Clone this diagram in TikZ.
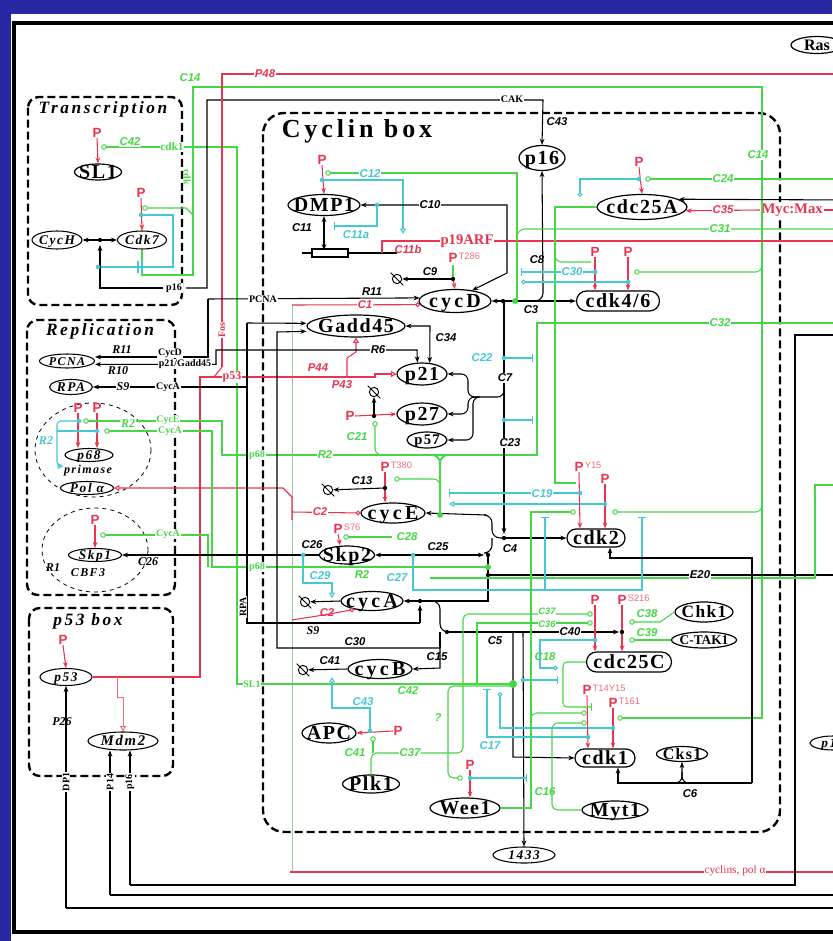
\documentclass[tikz,border=0pt]{standalone}
\usepackage{fontspec}
\setmainfont{Liberation Serif}
\newfontfamily\nfont{Liberation Serif}[LetterSpace=8]
\newfontfamily\cfont{Liberation Serif}[LetterSpace=16]
\newfontfamily\ifont{Liberation Serif}[LetterSpace=12]
\newfontfamily\tfont{Liberation Serif}[LetterSpace=15]
\newfontfamily\psans{Liberation Sans}
\usetikzlibrary{shapes.geometric,shapes.misc,arrows.meta,calc}
\definecolor{bgb}{RGB}{40,40,165}
\definecolor{rd}{RGB}{232,52,78}
\definecolor{rdl}{RGB}{236,110,125}
\definecolor{gn}{RGB}{70,215,70}
\definecolor{cy}{RGB}{70,200,210}
\definecolor{gy}{RGB}{160,200,160}
\newcounter{lc}
\newcommand\lab[3][]{\stepcounter{lc}\node[lb,#1] (t\arabic{lc}) at (#2) {#3};}
\newcommand\dotb[1]{\fill (#1) circle (1.6pt);}
\newcommand\dotg[1]{\fill[gn] (#1) circle (2.2pt);}
\newcommand\dotc[1]{\fill[cy] (#1) circle (1.7pt);}
\newcommand\ocg[1]{\draw[gn,fill=white,line width=0.7pt] (#1) circle (1.7pt);}
\newcommand\nP[2]{\node[pp] (#1) at (#2) {P};}
\newcommand\ntx[1]{\makebox[0pt]{\raisebox{-0.34em}[0pt][0pt]{#1}}}
\newcommand\degr[2]{\node[dg] (#1) at (#2) {}; \draw[line width=0.7pt] ([shift={(-2pt,2pt)}]#1.north west) -- ([shift={(2pt,-2pt)}]#1.south east);}
\begin{document}
\begin{tikzpicture}[x=0.75pt,y=-0.75pt,
 nd/.style={ellipse,draw,line width=0.9pt,fill=white,inner sep=0pt,font=\nfont\bfseries\fontsize{15}{15}\selectfont},
 cn/.style={nd,font=\cfont\bfseries\fontsize{15}{15}\selectfont},
 rr/.style={rounded rectangle,draw,line width=0.9pt,fill=white,inner sep=0pt,font=\nfont\bfseries\fontsize{15}{15}\selectfont},
 sn/.style={ellipse,draw,line width=0.8pt,fill=white,inner sep=0pt,font=\ifont\bfseries\itshape\fontsize{10}{10}\selectfont},
 sz/.style 2 args={minimum width={#1*0.75pt},minimum height={#2*0.75pt}},
 pp/.style={text=rd,font=\psans\bfseries\fontsize{10}{10}\selectfont,inner sep=0.3pt},
 psup/.style={text=rdl,font=\psans\fontsize{7}{7}\selectfont,inner sep=0.3pt,anchor=west},
 lb/.style={font=\psans\bfseries\itshape\fontsize{8.5}{8.5}\selectfont,inner sep=0.6pt,fill=white},
 fs/.style={font=\bfseries\fontsize{7.5}{7.5}\selectfont},
 fi/.style={font=\bfseries\itshape\fontsize{9}{9}\selectfont},
 fib/.style={font=\ifont\bfseries\itshape\fontsize{9}{9}\selectfont,fill=none},
 tgn/.style={text=gn}, tcy/.style={text=cy}, trd/.style={text=rd},
 bk/.style={draw=black,line width=0.8pt},
 rdln/.style={draw=rd,line width=0.8pt},
 gnln/.style={draw=gn,line width=0.8pt},
 cyln/.style={draw=cy,line width=0.8pt},
 ar/.style={-{Stealth[length=4.5pt,width=3.5pt]}},
 dar/.style={{Stealth[length=4.5pt,width=3.5pt]}-{Stealth[length=4.5pt,width=3.5pt]}},
 oc/.style={-{Circle[open,length=3.6pt,width=3.6pt]}},
 ot/.style={-{Triangle[open,length=4pt,width=4.5pt]}},
 tb/.style={-{Bar[width=6pt]}},
 bx/.style={draw=black,line width=1.8pt,dash pattern=on 6pt off 3pt,rounded corners=8pt},
 dg/.style={circle,draw,line width=0.7pt,minimum size=7pt,inner sep=0pt,fill=white}
]
\useasboundingbox (0,0) rectangle (832,941);
\fill[bgb] (0,0) rectangle (832,941);
\fill[white] (11,14) rectangle (845,950);
\draw[line width=2.3pt] (850,23) -- (14,23) -- (14,932) -- (850,932);

% boxes
\draw[bx] (28,97) rectangle (182,305);
\draw[bx] (27,320) rectangle (175,595);
\draw[bx] (29,608) rectangle (173,776);
\draw[bx,rounded corners=16pt] (263,113) rectangle (780,832);
\draw[dashed,line width=0.6pt] (93,450) ellipse (58 and 47);
\draw[dashed,line width=0.6pt] (95,550) ellipse (53 and 42);

% titles
\node[font=\tfont\bfseries\itshape\fontsize{13}{13}\selectfont] (ttr) at (103,109) {Transcription};
\node[font=\tfont\bfseries\itshape\fontsize{13}{13}\selectfont] (trp) at (100,331) {Replication};
\node[font=\tfont\bfseries\itshape\fontsize{13}{13}\selectfont] (tpb) at (88,621) {p53 box};
\node[font=\tfont\bfseries\fontsize{19.5}{19.5}\selectfont] (tcb) at (357,131) {Cyclin box};

% nodes
\node[nd,sz={47}{16}] (SL1) at (98,172) {\ntx{SL1}};
\node[sn,sz={50}{18}] (CycH) at (57,240) {\ntx{CycH}};
\node[sn,sz={49}{18}] (Cdk7) at (142,240) {\ntx{Cdk7}};
\node[sn,sz={55}{14},font=\ifont\bfseries\itshape\fontsize{9}{9}\selectfont] (PCNA) at (67,361) {\ntx{PCNA}};
\node[sn,sz={43}{15}] (RPA) at (71,387) {\ntx{RPA}};
\node[sn,sz={48}{13}] (p68) at (89,455) {\ntx{p68}};
\node[sn,sz={53}{13}] (Pola) at (87,488) {\ntx{Pol α}};
\node[sn,sz={53}{13}] (Skp1) at (95,555) {\ntx{Skp1}};
\node[sn,sz={52}{17}] (p53) at (66,677) {\ntx{p53}};
\node[sn,sz={70}{18},font=\ifont\bfseries\itshape\fontsize{11}{11}\selectfont] (Mdm2) at (123,741) {\ntx{Mdm2}};
\node[nd,sz={72}{21}] (DMP1) at (324,205) {\ntx{DMP1}};
\node[nd,sz={46}{25}] (p16) at (542,158) {\ntx{p16}};
\node[cn,sz={72}{23}] (cycD) at (455,301) {\ntx{cycD}};
\node[nd,sz={98}{22}] (Gadd45) at (356,326) {\ntx{Gadd45}};
\node[nd,sz={50}{22}] (p21) at (422,374) {\ntx{p21}};
\node[nd,sz={50}{22}] (p27) at (422,414) {\ntx{p27}};
\node[nd,sz={40}{16},font=\nfont\bfseries\fontsize{11}{11}\selectfont] (p57) at (427,440) {\ntx{p57}};
\node[cn,sz={64}{20}] (cycE) at (393,513) {\ntx{cycE}};
\node[nd,sz={55}{18}] (Skp2) at (347,555) {\ntx{Skp2}};
\node[cn,sz={62}{19}] (cycA) at (372,601) {\ntx{cycA}};
\node[cn,sz={64}{19}] (cycB) at (380,669) {\ntx{cycB}};
\node[nd,sz={54}{20}] (APC) at (329,733) {\ntx{APC}};
\node[nd,sz={57}{18}] (Plk1) at (371,784) {\ntx{Plk1}};
\node[nd,sz={70}{20}] (Wee1) at (465,808) {\ntx{Wee1}};
\node[sn,sz={62}{16}] (n1433) at (524,855) {\ntx{1433}};
\node[nd,sz={90}{25}] (cdc25A) at (642,207) {\ntx{cdc25A}};
\node[rr,sz={83}{20}] (cdk46) at (618,301) {\ntx{cdk4/6}};
\node[rr,sz={58}{18}] (cdk2) at (596,538) {\ntx{cdk2}};
\node[nd,sz={58}{20},font=\nfont\bfseries\fontsize{13}{13}\selectfont] (Chk1) at (704,612) {\ntx{Chk1}};
\node[nd,sz={65}{16},font=\bfseries\fontsize{10}{10}\selectfont] (CTAK1) at (704,640) {\ntx{C-TAK1}};
\node[rr,sz={85}{20}] (cdc25C) at (629,662) {\ntx{cdc25C}};
\node[rr,sz={60}{18}] (cdk1) at (605,758) {\ntx{cdk1}};
\node[nd,sz={51}{15},font=\nfont\bfseries\fontsize{12}{12}\selectfont] (Cks1) at (682,754) {\ntx{Cks1}};
\node[nd,sz={66}{18}] (Myt1) at (615,810) {\ntx{Myt1}};
\node[nd,sz={52}{17},font=\bfseries\fontsize{12}{12}\selectfont] (Ras) at (817,45) {\ntx{Ras}};
\node[sn,sz={46}{14}] (p15) at (833,743) {\ntx{p15}};
\node[font=\bfseries\fontsize{11}{11}\selectfont,text=rd,anchor=west,inner sep=1pt,fill=white] (tmyc) at (760,210) {Myc:Max};

% P nodes
\nP{pa}{97,133} \nP{pb}{141,193}
\nP{pc}{78,408} \nP{pd}{97,408} \nP{pe}{95,520} \nP{pf}{63,640}
\nP{pg}{322,160} \nP{ph}{453,258} \nP{pi}{350,416} \nP{pj}{385,467}
\nP{pk}{338,529} \nP{pl}{398,731} \nP{pm}{470,765} \nP{pn}{639,162}
\nP{po}{595,252} \nP{pq}{628,252} \nP{pr}{579,467} \nP{ps}{605,479}
\nP{pt}{595,600} \nP{pu}{622,600} \nP{pv}{587,690} \nP{pw}{613,703}
\node[psup] (s1) at ([yshift=1.5pt]ph.east) {T286};
\node[psup] (s2) at ([yshift=1.5pt]pj.east) {T380};
\node[psup] (s3) at ([yshift=1.5pt]pk.east) {S76};
\node[psup] (s4) at ([yshift=1.5pt]pr.east) {Y15};
\node[psup] (s5) at ([yshift=1.5pt]pu.east) {S216};
\node[psup] (s6) at ([yshift=1.5pt]pv.east) {T14Y15};
\node[psup] (s7) at ([yshift=1.5pt]pw.east) {T161};

% long thin lines
\draw[gy,line width=0.6pt] (292,305) -- (292,872);
\draw[rdln] (290,872) -- (850,872);
\draw[bk,ar] (66,908) -- (p53.south);
\draw[bk] (66,908) -- (850,908);
\draw[bk,ar] (110,895) -- ($(Mdm2.south)+(-13,0)$);
\draw[bk] (110,895) -- (850,895);
\draw[bk,ar] (130,885) -- ($(Mdm2.south)+(7,0)$);
\draw[bk] (130,885) -- (795,885) -- (795,335) -- (850,335);

% transcription
\draw[rdln,ar] (pa.south) -- (SL1.north);
\draw[rdln,ar] (pb.south) -- (Cdk7.north);
\draw[gnln] (106,147) -- (237,147) -- (237,684) -- (513,684);
\draw[gnln] (Cdk7.south) -- (142,275) -- (193,275) -- (193,87) -- (762,87) -- (762,718) -- (622,718);
\draw[gnln] (147,208) -- (186,208) -- (193,215);
\draw[cyln] (141,215) -- (173,215) -- (173,267) -- (98,267);
\draw[cyln] (138,261) -- (138,273) (142,261) -- (142,273);
\draw[bk,dar] (CycH) -- (Cdk7);
\draw[bk,ar] (163,288) -- (100,288) -- (100,245);
\draw[bk,ar] (186,288) -- (207,288) -- (207,100) -- (543,100) -- (p16.north);

% red P48 / Fos / p53
\draw[rdln] (222,367) -- (222,74) -- (850,74);
\draw[rdln] (222,367) -- (214,377);
\draw[rdln,ot] (p53.east) -- (200,677) -- (200,377) -- (375,377) -- (375,374) -- (p21.west);
\draw[rdln,ot] (347,377) -- (347,358) -- (356,352) -- (Gadd45.south);
\draw[rdln,ot] (292,520) -- (292,497) -- (283,488) -- (Pola.east);
\draw[rdln,oc] (292,512) -- (cycE.west);
\draw[rdln,oc] (292,305) -- (cycD.186);
\draw[draw=rdl,line width=0.7pt,ot] (117,677) -- (117,697) -- (123,697) -- (Mdm2.north);
\draw[rdln,ar] (pf.south) -- (p53.north);

% replication
\draw[rdln,ar] (pc.south) -- ($(p68.north)+(-11,0)$);
\draw[rdln,ar] (pd.south) -- ($(p68.north)+(8,0)$);
\draw[rdln,ar] (pe.south) -- (Skp1.north);
\draw[gnln] (88,421) -- (222,421) -- (222,455) -- (537,455) -- (537,323) -- (850,323);
\draw[gnln] (109,431) -- (212,431) -- (212,567) -- (488,567);
\draw[gnln] (105,535) -- (208,535) -- (208,567);
\draw[cyln,ot,rounded corners=3pt] (79,421) -- (57,421) -- (57,466) -- (63,466);
\draw[cyln] (97,431) -- (57,431);
\draw[bk,ar] (208,299) -- (cycD.175);
\draw[bk,ar] (208,299) -- (208,357) -- ([yshift=3pt]PCNA.east);
\draw[bk,dar] ([yshift=-2.5pt]PCNA.east) -- (216,364.3) -- (216,350) -- (417,350) -- (p21.112);
\draw[bk,ar] (247,323) -- ([yshift=2pt]Gadd45.west);
\draw[bk] (247,323) -- (247,623) -- (420,623);
\draw[bk,ar] (247,387) -- (RPA.east);
\draw[bk,ar] (420,623) -- (420,605);
\draw[bk,ar] (440,648) -- (277,648) -- (277,332) -- ([yshift=-4pt]Gadd45.west);
\draw[bk,ar] (Skp2.west) -- (Skp1.east);

% cyclin box top
\draw[rdln,ar] (pg.south) -- (DMP1.north);
\draw[gnln] (330,173) -- (517,173) -- (517,301);
\draw[cyln,ot] (322,180) -- (403,180) -- (403,234);
\draw[bk,dar] (DMP1.east) -- (507,205) -- (507,273) -- (cycD.32);
\draw[cyln,tb] (377,205) -- (377,226) -- (334,226);
\draw[bk,dar] (DMP1.south) -- ++(0,34);
\draw[bk,line width=1pt] (302,253) -- (397,253);
\draw[bk,fill=white] (312,249) rectangle (348,257);
\draw[rdln] (382,253) -- (382,241) -- (850,241);
\draw[gnln] (453,265) -- (453,279);
\draw[rdln,ar] (453,279) -- (cycD.north);
\degr{dg1}{397,279}
\draw[bk,ar] (453,279) -- (dg1);
\draw[bk,dar] (cycD.east) -- (cdk46.west);
\draw[bk,ar,rounded corners=6pt] (531,301) -| (543,285) -- (p16.south);
\draw[bk,ar] (504,301) -- (504,534);
\draw[cyln,tb] (504,358) -- (533,358);
\draw[cyln,tb] (504,420) -- (533,420);
\draw[gnln,rounded corners=6pt] (517,245) |- (535,229) -- (850,229);

% CKIs
\draw[bk,dar] (Gadd45.east) -- (430,326) -- (p21.55);
\draw[bk,rounded corners=5pt] (504,384) |- (478,397);
\draw[bk,ar,rounded corners=5pt] (478,397) -| (468,374) -- (p21.east);
\draw[bk,ar,rounded corners=5pt] (478,397) -| (468,414) -- (p27.east);
\draw[bk,ar,rounded corners=5pt] (478,397) -| (473,440) -- (p57.east);
\draw[rdln,ar] (pi.east) -- (p27.west);
\degr{dg5}{374,392}
\draw[bk,ar] (374,416) -- (dg5.south);
\draw[gnln,rounded corners=5pt] (375,426) |- (395,455);
\draw[gnln,line width=1.3pt,rounded corners=6pt] (425,455) -| (440,515);
\draw[gnln,line width=1.3pt,rounded corners=6pt] (455,455) -| (440,475);

% cycE, Skp2
\draw[rdln,ar] (pj.south) -- ($(cycE.north)+(-8,0)$);
\draw[gnln,rounded corners=5pt] (399,479) -| (440,492);
\degr{dg2}{328,490}
\draw[bk,ar] (385,488) -- (dg2);
\draw[bk,ar] (486,515) -- (cycE.east);
\draw[bk,rounded corners=6pt] (486,515) -- (492,515) -- (492,538) -- (504,538);
\draw[bk,rounded corners=6pt] (488,553) -- (492,553) -- (492,538);
\draw[bk,ar] (504,538) -- (cdk2.west);
\draw[rdln,ar] (pk.south) -- ($(Skp2.north)+(-7,0)$);
\draw[gnln] (348,537) -- (392,537);
\draw[bk,dar] (Skp2.east) -- (484,555);
\draw[bk] (488,553) -- (488,601) -- (420,601);
\draw[bk] (488,575) -- (850,575);
\draw[gnln] (430,578) -- (815,578) -- (815,485) -- (850,485);
\draw[cyln,ot] (303,555) -- (303,583) -- (332,583) -- (332,598);
\draw[cyln,tb] (413,555) -- (413,590) -- (642,590) -- (642,517);
\draw[cyln,tb] (545,590) -- (545,517);
\draw[cyln,tb] (580,493) -- (449,493);
\draw[cyln,ot] (605,504) -- (449,504);

% cycA, cycB
\draw[bk,ar] (420,601) -- (cycA.east);
\degr{dg3}{305,602}
\draw[bk,ar] (cycA.west) -- (dg3);
\draw[rdln,oc] (292,620) -- (330,614) -- (cycA.205);
\draw[bk,rounded corners=6pt] (420,601) -- (440,601) -- (440,632) -- (447,632);
\draw[bk,rounded corners=6pt] (440,648) -- (440,632);
\draw[bk,ar] (440,648) -- (440,668) -- (cycB.east);
\draw[bk,ar] (447,632) -- (619,632);
\draw[bk,ar] (513,632) -- (513,757) -- (cdk1.west);
\draw[bk,ar] (523,632) -- (n1433.north);
\degr{dg4}{303,670}
\draw[bk,ar] (cycB.west) -- (dg4);
\draw[cyln,ot] (370,731) -- (370,708) -- (332,708) -- (332,677);
\draw[rdln,ar] (pl.west) -- (APC.east);
\draw[gnln] (373,741) -- (373,753);
\draw[gnln,rounded corners=4pt] (Plk1.north) |- (463,753) -- (463,614) -- (588,614);
\draw[gnln] (477,684) -- (477,623) -- (588,623);

% Wee1 region
\draw[gnln,rounded corners=4pt] (513,686) -- (448,686) -- (448,778) -- (458,778);
\draw[rdln,ar] (pm.south) -- ($(Wee1.north)+(5,0)$);
\draw[cyln,tb] (470,778) -- (527,778);
\draw[cyln,tb] (523,680) -- (558,680);
\draw[gnln] (Wee1.east) -- (531,808) -- (531,512) -- (571,512);
\draw[gnln,rounded corners=5pt] (617,512) -- (762,512) -- (762,505);
\draw[cyln,tb] (588,737) -- (487,737) -- (487,689);
\draw[cyln,oc] (613,728) -- (500,728) -- (500,692);

% cdk2
\draw[rdln,ar] (pr.south) -- ($(cdk2.north)+(-16,0)$);
\draw[rdln,ar] (ps.south) -- ($(cdk2.north)+(9,0)$);
\draw[gnln] (cdc25A.west) -- (555,207) -- (555,483) -- (576,483);
\draw[gnln,rounded corners=5pt] (555,250) |- (591,262);
\draw[bk,ar] (752,783) -- (752,558) -- (610,558) -- ($(cdk2.south)+(14,0)$);

% cdk4/6 & cdc25A
\draw[rdln,ar] (po.south) -- ($(cdk46.north)+(-23,0)$);
\draw[rdln,ar] (pq.south) -- ($(cdk46.north)+(10,0)$);
\draw[cyln,tb] (595,272) -- (521,272);
\draw[cyln,oc] (628,282) -- (521,282);
\draw[gnln,rounded corners=5pt] (639,272) -- (762,272) -- (762,265);
\draw[rdln,ar] (pn.south) -- (cdc25A.north);
\draw[gnln] (650,179) -- (850,179);
\draw[cyln,oc] (639,179) -- (580,179) -- (580,197);
\draw[bk,ar] (850,200) -- (cdc25A.12);
\draw[rdln,ar] (tmyc.west) -- (cdc25A.355);
\draw[rdln] (tmyc.east) -- (850,210);

% cdc25C / cdk1
\draw[rdln,ar] (pt.south) -- ($(cdc25C.north)+(-34,0)$);
\draw[rdln,ar] (pu.south) -- ($(cdc25C.north)+(-7,0)$);
\draw[gnln] (Chk1.west) -- (660,622) -- (634,622);
\draw[gnln] (CTAK1.west) -- (634,640);
\draw[cyln,oc] (595,640) -- (540,640) -- (540,668) -- (558,668);
\draw[rdln,ar] (pv.south) -- ($(cdk1.north)+(-17,0)$);
\draw[rdln,ar] (pw.south) -- ($(cdk1.north)+(8,0)$);
\draw[gnln,rounded corners=4pt] (531,735) |- (582,713);
\draw[gnln,rounded corners=4pt] (Myt1.west) -| (552,723) -- (582,723);
\draw[gnln,tb,rounded corners=3pt] (cdc25C.west) -| (563,707) -- (592,707);
\draw[bk,ar] (752,783) -- (618,783) -- ($(cdk1.south)+(13,0)$);
\draw[bk,ar,rounded corners=5pt] (670,783) -| (682,770) -- (Cks1.south);
\draw[bk,rounded corners=5pt] (694,783) -| (682,772);

% dots and small circles
\dotb{100,240} \dotb{453,279} \dotb{503,301} \dotb{374,416} \dotb{385,488}
\dotb{504,538} \dotb{488,555} \dotb{488,575} \dotb{420,601} \dotb{447,632} \dotb{622,632}
\dotg{515,301} \dotg{440,515} \dotg{488,567} \fill[gn] (513,684) circle (3pt);
\dotc{141,215} \dotc{98,267} \dotc{79,421} \dotc{97,431} \dotc{322,180} \dotc{377,205}
\dotc{504,358} \dotc{504,420} \dotc{303,555} \dotc{413,555} \dotc{580,493} \dotc{605,504}
\dotc{595,272} \dotc{628,282} \dotc{639,179} \dotc{370,731} \dotc{470,778} \dotc{523,680}
\dotc{588,737} \dotc{613,728} \dotc{595,640}
\ocg{104,147} \ocg{145,208} \ocg{86,421} \ocg{107,431} \ocg{103,535} \ocg{328,173}
\ocg{375,424} \ocg{397,479} \ocg{346,537} \ocg{373,739} \ocg{460,778} \ocg{573,512}
\ocg{615,512} \ocg{637,272} \ocg{648,179} \ocg{590,614} \ocg{590,623} \ocg{632,622}
\ocg{632,640} \ocg{584,713} \ocg{584,723} \ocg{620,718}

% labels
\lab[tgn]{130,142}{C42}
\lab[tgn,font=\bfseries\fontsize{8.5}{8.5}\selectfont]{172,147}{cdk1}
\lab[tgn]{190,78}{C14}
\lab[tgn,fs,rotate=-90,fill=none]{187,177}{cdk}
\lab[fs]{174,288}{p16}
\lab[fs]{512,99}{CAK}
\lab{557,122}{C43}
\lab[trd]{265,74}{P48}
\lab[trd,fs,rotate=90]{222,330}{Fos}
\lab[trd,fs,font=\bfseries\fontsize{9}{9}\selectfont]{232,377}{p53}
\lab[fs]{263,299}{PCNA}
\lab[fi]{122,350}{R11}
\lab[fs]{170,353}{CycD}
\lab[fi]{118,371}{R10}
\lab[fs]{185,364}{p21/Gadd45}
\lab[fi]{123,387}{S9}
\lab[fs]{168,387}{CycA}
\lab[tgn,fs]{168,420}{CycE}
\lab[tgn,fs]{170,431}{CycA}
\lab[tgn,fi]{128,424}{R2}
\lab[tcy,fi,fill=none]{46,441}{R2}
\lab[fib]{88,471}{primase}
\lab[tgn,fs]{168,534}{CycA}
\lab[fi,fill=none]{53,568}{R1}
\lab[fib]{88,573}{CBF3}
\lab[fi,fill=none]{148,562}{C26}
\lab[tgn,fs]{257,455}{p68}
\lab[tgn,fs]{257,567}{p68}
\lab[tgn,fs]{252,684}{SL1}
\lab[fs,rotate=90]{243,607}{RPA}
\lab[fi,fill=none]{62,722}{P26}
\lab[fs,rotate=90]{66,782}{DP1}
\lab[fs,rotate=90]{110,782}{P14}
\lab[fs,rotate=90]{130,782}{p16}
\lab[tcy]{370,174}{C12}
\lab{430,205}{C10}
\lab[fill=none]{302,228}{C11}
\lab[tcy,fill=none]{356,235}{C11a}
\lab[trd,fill=none]{408,249}{C11b}
\lab[trd,font=\bfseries\fontsize{11}{11}\selectfont]{467,241}{p19ARF}
\lab[fill=none]{430,272}{C9}
\lab[fill=none]{372,292}{R11}
\lab[trd]{365,305}{C1}
\lab[fill=none]{531,310}{C3}
\lab[fill=none]{537,260}{C8}
\lab[tcy]{572,272}{C30}
\lab[fill=none]{446,338}{C34}
\lab{378,350}{R6}
\lab[trd,fill=none]{318,368}{P44}
\lab[trd,fill=none]{342,385}{P43}
\lab[tcy]{482,358}{C22}
\lab{505,378}{C7}
\lab[tgn,fill=none]{357,437}{C21}
\lab[tgn]{325,455}{R2}
\lab{510,443}{C23}
\lab[fill=none]{362,481}{C13}
\lab[trd]{320,512}{C2}
\lab[tcy]{542,494}{C19}
\lab[tgn,fill=none]{407,537}{C28}
\lab[fill=none]{312,545}{C26}
\lab[fill=none]{438,547}{C25}
\lab[fill=none]{510,549}{C4}
\lab[tcy,fill=none]{320,576}{C29}
\lab[tgn,fill=none]{362,575}{R2}
\lab[tcy,fill=none]{397,578}{C27}
\lab{700,575}{E20}
\lab[trd,fill=none]{327,613}{C2}
\lab[fi,fill=none]{313,631}{S9}
\lab[fill=none]{355,642}{C30}
\lab[fill=none]{495,641}{C5}
\lab[fill=none]{437,657}{C15}
\lab[fill=none]{330,661}{C41}
\lab{570,632}{C40}
\lab[tgn,font=\psans\bfseries\itshape\fontsize{7}{7}\selectfont]{547,611}{C37}
\lab[tgn,font=\psans\bfseries\itshape\fontsize{7}{7}\selectfont]{547,624}{C36}
\lab[tgn,fill=none]{647,614}{C38}
\lab[tgn,fill=none]{647,633}{C39}
\lab[tgn,fill=none]{545,657}{C18}
\lab[tgn,fill=none]{408,691}{C42}
\lab[tcy,fill=none]{363,702}{C43}
\lab[tgn,fill=none]{438,718}{?}
\lab[tcy,fill=none]{490,746}{C17}
\lab[tgn]{355,753}{C41}
\lab[tgn]{410,753}{C37}
\lab[tgn,fill=none]{545,792}{C16}
\lab[fill=none]{690,794}{C6}
\lab[tgn]{723,179}{C24}
\lab[trd]{723,210}{C35}
\lab[tgn]{720,229}{C31}
\lab[tgn]{720,323}{C32}
\lab[tgn]{758,155}{C14}
\lab[trd,fs,font=\fontsize{8.5}{8.5}\selectfont]{735,871}{cyclins, pol α}
\end{tikzpicture}
\end{document}
